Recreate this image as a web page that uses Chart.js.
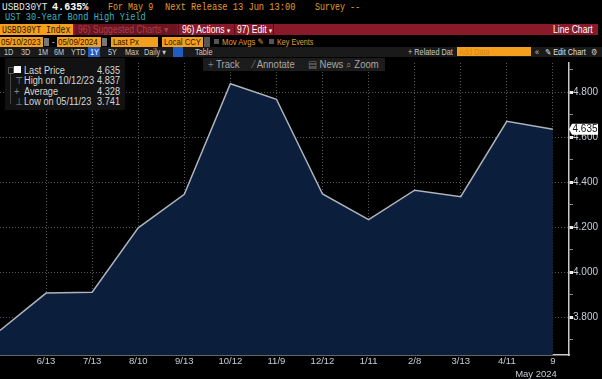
<!DOCTYPE html>
<html><head><meta charset="utf-8">
<script src="https://cdn.jsdelivr.net/npm/chart.js@4.4.0/dist/chart.umd.min.js"></script>
<style>
html,body{margin:0;padding:0;background:#000;width:602px;height:379px;overflow:hidden;}
#wrap{position:relative;width:602px;height:379px;background:#000;}
.t{position:absolute;white-space:nowrap;transform-origin:0 50%;}
.mono{font-family:"Liberation Mono","DejaVu Sans Mono",monospace;font-size:11px;line-height:12px;transform:scaleX(0.79);}
.sans{font-family:"Liberation Sans","DejaVu Sans",sans-serif;transform:scaleX(0.86);}
.box{position:absolute;}
#cv{position:absolute;left:0;top:57px;}
.or{color:#e39b2c;}
.obx{position:absolute;background:#f4a01e;height:10px;}
.ob{color:#2a1400;font-size:9px;line-height:10px;}
.r5{font-size:8.5px;line-height:10px;color:#c8c8c8;}
.leg{font-family:"Liberation Sans","DejaVu Sans",sans-serif;font-size:10px;color:#d6d6d6;line-height:10px;transform:scaleX(0.92);}
.tb{font-family:"Liberation Sans","DejaVu Sans",sans-serif;font-size:10px;color:#a8a8a8;line-height:13px;transform:scaleX(0.95);}
</style></head>
<body><div id="wrap">
<!-- Row 1 -->
<div class="t mono" style="left:2px;top:1px;color:#e6e6e6;transform:scaleX(0.86);">USBD30YT</div>
<div class="t mono" style="left:52px;top:1px;color:#fff;font-weight:bold;transform:scaleX(0.92);">4.635%</div>
<div class="t mono or" style="left:108px;top:1px;transform:scaleX(0.76);">For May 9</div>
<div class="t mono or" style="left:165px;top:1px;">Next Release 13 Jun 13:00</div>
<div class="t mono or" style="left:315px;top:1px;transform:scaleX(0.76);">Survey --</div>
<!-- Row 2 -->
<div class="t mono" style="left:5px;top:11px;color:#38b4c4;">UST 30-Year Bond High Yield</div>
<!-- Row 3 -->
<div class="box" style="left:0;top:24px;width:598px;height:11px;background:#8a1a2a;"></div>
<div class="box" style="left:0;top:24px;width:73px;height:11px;background:#f4a01e;"></div>
<div class="t mono" style="left:2px;top:24px;color:#2a1400;transform:scaleX(0.74);">USBD30YT Index</div>
<div class="box" style="left:75px;top:24px;width:102px;height:11px;background:#6c1420;"></div>
<div class="t sans" style="left:78px;top:24px;font-size:10px;line-height:11px;color:#a5404c;">96) Suggested Charts ▾</div>
<div class="box" style="left:178px;top:24px;width:1px;height:11px;background:#5a0f18;"></div>
<div class="t sans" style="left:182px;top:24px;font-size:10px;line-height:11px;color:#fff;">96) Actions <span style="font-size:7px">▾</span></div>
<div class="box" style="left:234px;top:24px;width:1px;height:11px;background:#5a0f18;"></div>
<div class="t sans" style="left:237px;top:24px;font-size:10px;line-height:11px;color:#fff;">97) Edit <span style="font-size:7px">▾</span></div>
<div class="box" style="left:273px;top:24px;width:1px;height:11px;background:#5a0f18;"></div>
<div class="t sans" style="left:553px;top:24px;font-size:10px;line-height:11px;color:#fff;">Line Chart</div>
<!-- Row 4 -->
<div class="obx" style="left:0;top:37px;width:43px;"></div>
<div class="t sans ob" style="left:1px;top:37px;transform:scaleX(0.88);">05/10/2023</div>
<div class="box" style="left:44px;top:38px;width:5px;height:8px;background:#777;"></div>
<div class="t sans" style="left:52px;top:37px;font-size:9px;line-height:10px;color:#ddd;">-</div>
<div class="obx" style="left:57px;top:37px;width:44px;"></div>
<div class="t sans ob" style="left:58px;top:37px;transform:scaleX(0.88);">05/09/2024</div>
<div class="box" style="left:102px;top:38px;width:5px;height:8px;background:#777;"></div>
<div class="obx" style="left:111px;top:37px;width:47px;"></div>
<div class="t sans ob" style="left:113px;top:37px;">Last Px</div>
<div class="obx" style="left:162px;top:37px;width:41px;"></div>
<div class="t sans ob" style="left:164px;top:37px;">Local CCY</div>
<div class="box" style="left:204px;top:37px;width:6px;height:10px;background:#555;"></div>
<div class="box" style="left:214px;top:39px;width:5px;height:5px;background:#555;"></div>
<div class="t sans or" style="left:222px;top:37px;font-size:9px;line-height:10px;">Mov Avgs ✎</div>
<div class="box" style="left:269px;top:39px;width:5px;height:5px;background:#555;"></div>
<div class="t sans or" style="left:277px;top:37px;font-size:9px;line-height:10px;transform:scaleX(0.8);">Key Events</div>
<!-- Row 5 -->
<div class="box" style="left:0;top:47px;width:602px;height:10px;background:#1a1a1a;"></div>
<div class="t sans r5" style="left:4px;top:47px;">1D</div>
<div class="t sans r5" style="left:21px;top:47px;">3D</div>
<div class="t sans r5" style="left:38px;top:47px;">1M</div>
<div class="t sans r5" style="left:54px;top:47px;">6M</div>
<div class="t sans r5" style="left:71px;top:47px;">YTD</div>
<div class="box" style="left:88px;top:47px;width:12px;height:10px;background:#1f5cc4;"></div>
<div class="t sans r5" style="left:90px;top:47px;color:#fff;">1Y</div>
<div class="t sans r5" style="left:108px;top:47px;">5Y</div>
<div class="t sans r5" style="left:125px;top:47px;">Max</div>
<div class="t sans r5" style="left:144px;top:47px;">Daily ▾</div>
<div class="box" style="left:173px;top:47px;width:10px;height:10px;background:#1f5cc4;"></div>
<div class="t sans r5" style="left:195px;top:47px;">Table</div>
<div class="t sans r5" style="left:408px;top:47px;">+ Related Dat</div>
<div class="box" style="left:457px;top:47px;width:74px;height:9px;background:#f4a01e;"></div>
<div class="t sans r5" style="left:459px;top:47px;color:#d8861a;">Add Data</div>
<div class="t sans r5" style="left:535px;top:47px;">«</div>
<div class="t sans r5" style="left:545px;top:47px;color:#e0e0e0;">✎ Edit Chart</div>
<div class="t sans r5" style="left:591px;top:47px;">⚙</div>

<canvas id="cv" width="602" height="322"></canvas>

<!-- Legend box -->
<div class="box" style="left:5px;top:58px;width:120px;height:52px;background:#121212;"></div>
<div class="box" style="left:14px;top:66px;width:7px;height:7px;background:#fff;"></div>
<div class="box" style="left:8px;top:67px;width:4px;height:5px;border:1px solid #555;"></div>
<div class="box" style="left:10px;top:74px;width:1px;height:30px;background:#444;"></div>
<div class="t leg" style="left:24px;top:66px;">Last Price</div>
<div class="t leg" style="left:97px;top:66px;">4.635</div>
<div class="t leg" style="left:15px;top:76px;color:#888;">⊤</div>
<div class="t leg" style="left:24px;top:76px;">High on 10/12/23</div>
<div class="t leg" style="left:97px;top:76px;">4.837</div>
<div class="t leg" style="left:14px;top:87px;color:#888;">+</div>
<div class="t leg" style="left:24px;top:87px;">Average</div>
<div class="t leg" style="left:97px;top:87px;">4.328</div>
<div class="t leg" style="left:15px;top:97px;color:#888;">⊥</div>
<div class="t leg" style="left:24px;top:97px;">Low on 05/11/23</div>
<div class="t leg" style="left:97px;top:97px;">3.741</div>

<!-- Toolbar -->
<div class="box" style="left:203px;top:58px;width:182px;height:13px;background:#1c1c1c;"></div>
<div class="t tb" style="left:208px;top:58px;"><span style="color:#777">+</span> Track</div>
<div class="t tb" style="left:253px;top:58px;"><span style="color:#777">⁄</span> Annotate</div>
<div class="t tb" style="left:308px;top:58px;"><span style="color:#777">▤</span> News</div>
<div class="t tb" style="left:346px;top:58px;"><span style="color:#777">⌕</span> Zoom</div>
</div>
<script>
const xLabels = ['5/11','6/13','7/13','8/10','9/13','10/12','11/9','12/12','1/11','2/8','3/13','4/11','9'];
const yields  = [3.741, 3.907, 3.911, 4.197, 4.346, 4.837, 4.768, 4.347, 4.233, 4.364, 4.335, 4.670, 4.635];
const yTicks  = [3.7, 3.8, 3.9, 4.0, 4.1, 4.2, 4.3, 4.4, 4.5, 4.6, 4.7, 4.8, 4.9];
const lastPrice = 4.635;
const lastDateLabel = 'May 2024';

const tickColor = '#c6cdda';
const axisFont = '"Liberation Sans","DejaVu Sans",sans-serif';
const isMajor = v => Math.round(v * 10) % 2 === 0;

const overlay = {
  id: 'overlay',
  afterDraw(chart) {
    const ctx = chart.ctx, ys = chart.scales.y, xs = chart.scales.x;
    const py = ys.getPixelForValue(lastPrice);
    const x0 = ys.left;
    ctx.save();
    ctx.fillStyle = '#ffffff';
    ctx.beginPath();
    ctx.moveTo(x0, py);
    ctx.lineTo(x0 + 3, py - 5.5);
    ctx.lineTo(598, py - 5.5);
    ctx.lineTo(598, py + 5.5);
    ctx.lineTo(x0 + 3, py + 5.5);
    ctx.closePath();
    ctx.fill();
    ctx.fillStyle = '#111';
    ctx.font = '10px ' + axisFont;
    ctx.textAlign = 'center';
    ctx.textBaseline = 'middle';
    ctx.fillText(lastPrice.toFixed(3), (x0 + 3 + 598) / 2, py + 0.5);
    ctx.fillStyle = tickColor;
    ctx.font = '9.5px ' + axisFont;
    ctx.textAlign = 'right';
    ctx.fillText(lastDateLabel, xs.getPixelForValue(xLabels.length - 1) + 4, xs.bottom - 5);
    ctx.restore();
  }
};

new Chart(document.getElementById('cv'), {
  type: 'line',
  data: {
    datasets: [{
      data: yields.map((v, i) => ({ x: i, y: v })),
      borderColor: '#aeb4bc',
      borderWidth: 1.5,
      backgroundColor: '#0b1f3c',
      fill: 'start',
      pointRadius: 0,
      tension: 0
    }]
  },
  options: {
    responsive: false,
    animation: false,
    layout: { padding: { top: 3, left: 0, right: 0, bottom: 0 } },
    plugins: { legend: { display: false }, tooltip: { enabled: false } },
    scales: {
      x: {
        type: 'linear',
        min: 0,
        max: 12.35,
        afterBuildTicks: s => { s.ticks = xLabels.slice(1).map((l, i) => ({ value: i + 1 })); },
        afterFit: s => { s.height = 24; },
        ticks: {
          autoSkip: false,
          maxRotation: 0,
          padding: 1,
          color: tickColor,
          font: { family: axisFont, size: 9.5 },
          callback: v => xLabels[Math.round(v)] || ''
        },
        grid: { color: 'rgba(140,148,160,0.6)', lineWidth: 1, drawTicks: false },
        border: { display: true, color: '#c9c9c9', width: 1.5, dash: [1, 2] }
      },
      y: {
        type: 'linear',
        position: 'right',
        min: 3.632,
        max: 4.929,
        afterBuildTicks: s => { s.ticks = yTicks.map(v => ({ value: v })); },
        afterFit: s => { s.width = 33; },
        ticks: {
          autoSkip: false,
          padding: 0,
          color: tickColor,
          font: { family: axisFont, size: 10 },
          callback: v => isMajor(v) ? v.toFixed(3) : ''
        },
        grid: {
          color: c => isMajor(c.tick.value) ? 'rgba(140,148,160,0.6)' : 'rgba(0,0,0,0)',
          lineWidth: 1,
          tickLength: 4,
          tickColor: c => isMajor(c.tick.value) ? '#eeeeee' : '#8a8a8a',
          tickWidth: c => isMajor(c.tick.value) ? 3 : 1
        },
        border: { display: true, color: '#c9c9c9', width: 1.5, dash: [1, 2] }
      }
    }
  },
  plugins: [overlay]
});
</script>
</body></html>
